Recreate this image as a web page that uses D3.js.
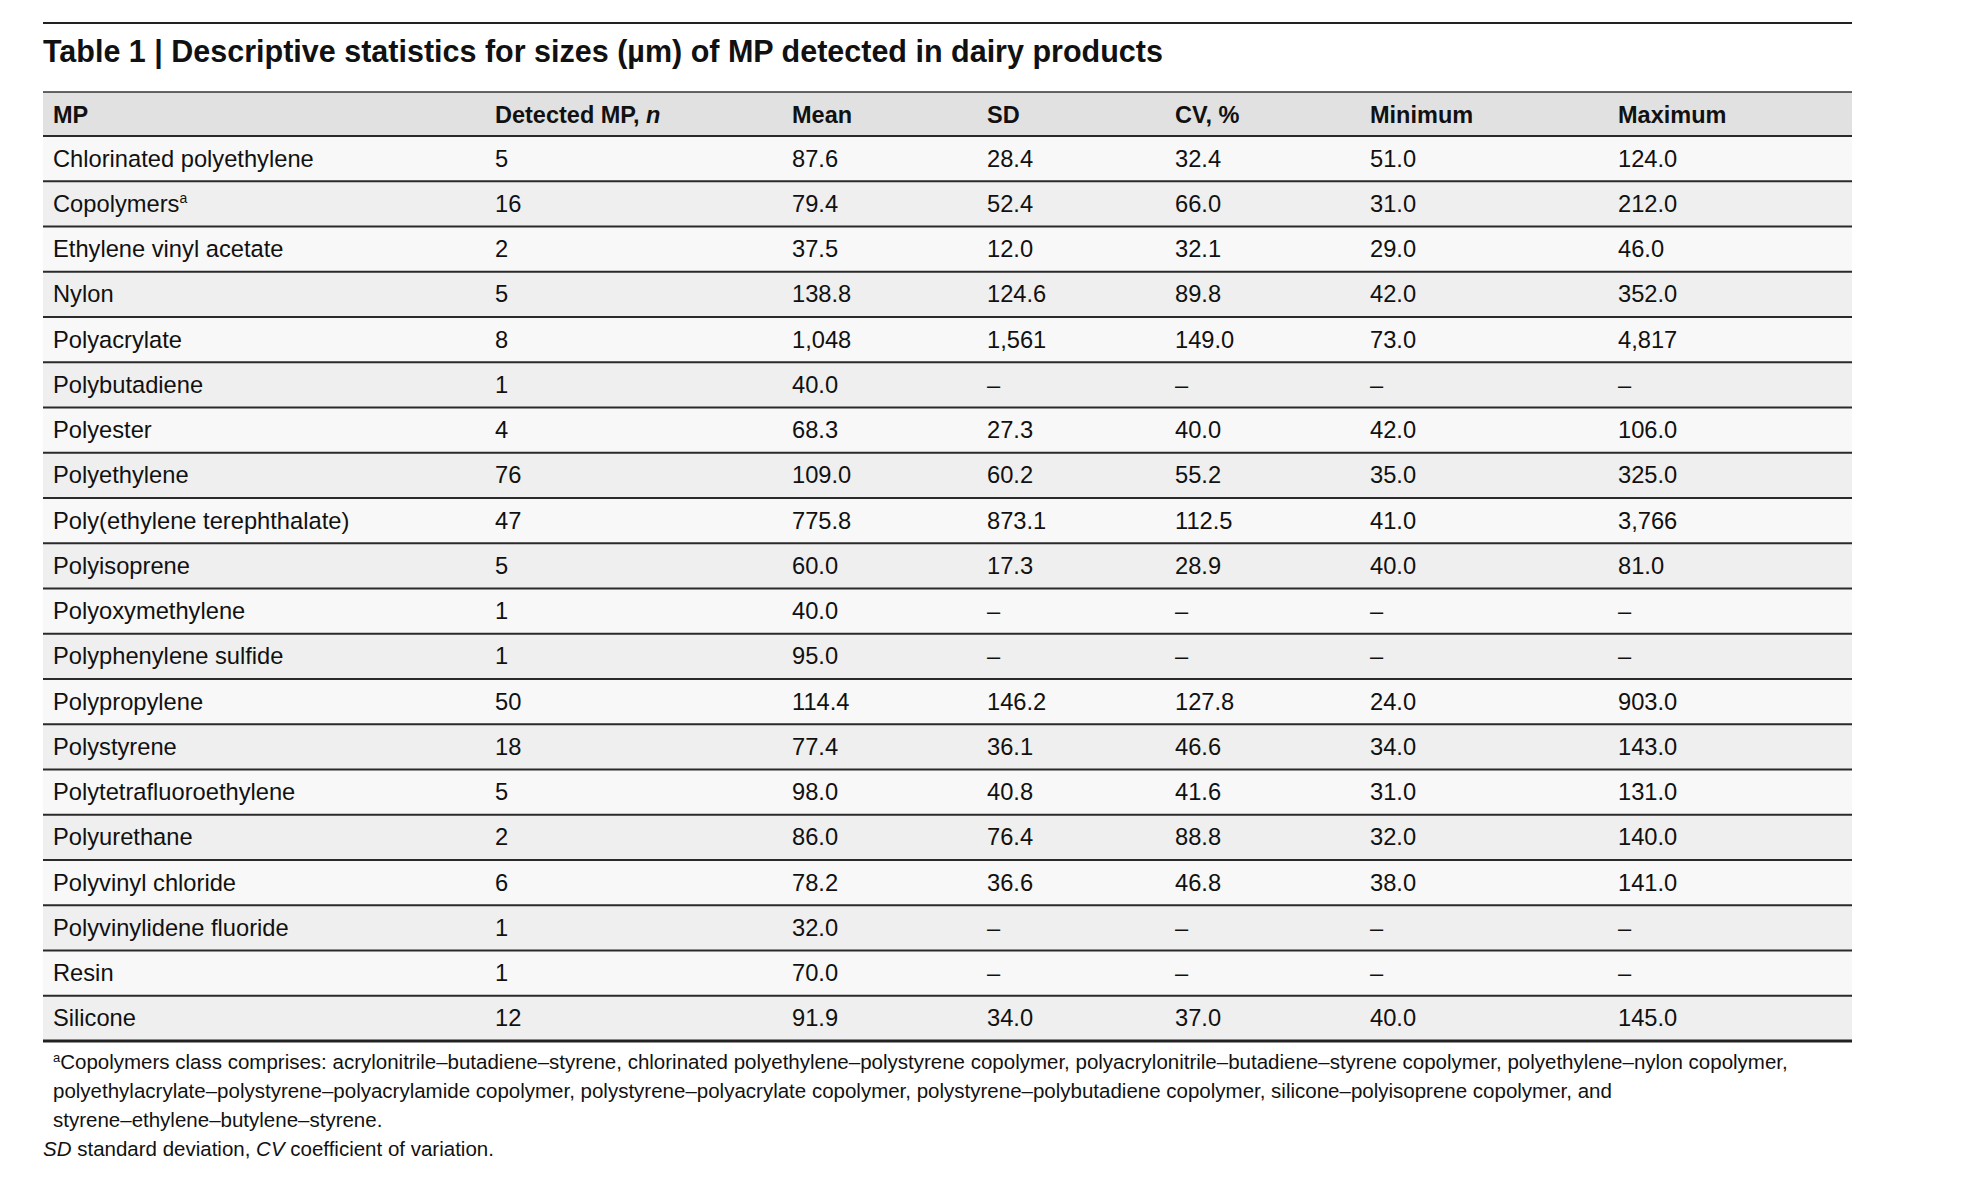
<!DOCTYPE html>
<html><head><meta charset="utf-8">
<script src="https://cdn.jsdelivr.net/npm/d3@7"></script>
<style>body{margin:0;background:#fff}svg{font-family:"Liberation Sans",Arial,sans-serif}</style>
</head><body><svg id="t" width="1966" height="1178"></svg>
<script>
var columns = ["MP", "Detected MP, n", "Mean", "SD", "CV, %", "Minimum", "Maximum"];
var names = ["Chlorinated polyethylene","Copolymers","Ethylene vinyl acetate","Nylon","Polyacrylate","Polybutadiene","Polyester","Polyethylene","Poly(ethylene terephthalate)","Polyisoprene","Polyoxymethylene","Polyphenylene sulfide","Polypropylene","Polystyrene","Polytetrafluoroethylene","Polyurethane","Polyvinyl chloride","Polyvinylidene fluoride","Resin","Silicone"];
var detected = ["5","16","2","5","8","1","4","76","47","5","1","1","50","18","5","2","6","1","1","12"];
var means = ["87.6","79.4","37.5","138.8","1,048","40.0","68.3","109.0","775.8","60.0","40.0","95.0","114.4","77.4","98.0","86.0","78.2","32.0","70.0","91.9"];
var sds = ["28.4","52.4","12.0","124.6","1,561","–","27.3","60.2","873.1","17.3","–","–","146.2","36.1","40.8","76.4","36.6","–","–","34.0"];
var cvs = ["32.4","66.0","32.1","89.8","149.0","–","40.0","55.2","112.5","28.9","–","–","127.8","46.6","41.6","88.8","46.8","–","–","37.0"];
var mins = ["51.0","31.0","29.0","42.0","73.0","–","42.0","35.0","41.0","40.0","–","–","24.0","34.0","31.0","32.0","38.0","–","–","40.0"];
var maxs = ["124.0","212.0","46.0","352.0","4,817","–","106.0","325.0","3,766","81.0","–","–","903.0","143.0","131.0","140.0","141.0","–","–","145.0"];
var footnotes = [
  "Copolymers class comprises: acrylonitrile–butadiene–styrene, chlorinated polyethylene–polystyrene copolymer, polyacrylonitrile–butadiene–styrene copolymer, polyethylene–nylon copolymer,",
  "polyethylacrylate–polystyrene–polyacrylamide copolymer, polystyrene–polyacrylate copolymer, polystyrene–polybutadiene copolymer, silicone–polyisoprene copolymer, and",
  "styrene–ethylene–butylene–styrene."
];

var svg = d3.select("#t");
var left = 43, right = 1852;
var colX = [53, 495, 792, 987, 1175, 1370, 1618];
var y = d3.scaleBand().domain(d3.range(names.length)).range([136, 1041]).padding(0);

svg.append("line").attr("x1", left).attr("x2", right).attr("y1", 23).attr("y2", 23).attr("stroke", "#222").attr("stroke-width", 2);
svg.append("text").attr("x", left).attr("y", 62).attr("font-size", 30.5).attr("font-weight", "bold").attr("fill", "#111")
  .text("Table 1 | Descriptive statistics for sizes (µm) of MP detected in dairy products");

// header
svg.append("rect").attr("x", left).attr("y", 92).attr("width", right - left).attr("height", 44).attr("fill", "#e1e1e1");
svg.append("line").attr("x1", left).attr("x2", right).attr("y1", 92).attr("y2", 92).attr("stroke", "#333").attr("stroke-width", 1.5);
var ht = svg.append("g").selectAll("text").data(columns).join("text")
  .attr("x", function(d, i){return colX[i];}).attr("y", 123)
  .attr("font-size", 23.5).attr("font-weight", "bold").attr("fill", "#111");
ht.each(function(d){
  var t = d3.select(this);
  if (d.indexOf(", n") > 0) { t.append("tspan").text("Detected MP, "); t.append("tspan").attr("font-style", "italic").text("n"); }
  else t.text(d);
});

var rows = svg.append("g").selectAll("g").data(names).join("g")
  .attr("transform", function(d, i){return "translate(0," + y(i) + ")";});
rows.append("rect").attr("x", left).attr("width", right - left).attr("height", y.bandwidth())
  .attr("fill", function(d, i){return i % 2 ? "#efefef" : "#f8f8f8";});
rows.append("line").attr("x1", left).attr("x2", right).attr("y1", 0).attr("y2", 0)
  .attr("stroke", "#2a2a2a").attr("stroke-width", 2);
var cols = [names, detected, means, sds, cvs, mins, maxs];
cols.forEach(function(arr, c){
  rows.append("text").attr("x", colX[c]).attr("y", y.bandwidth() / 2 + 8)
    .attr("font-size", 23.7).attr("fill", "#111")
    .each(function(d, i){
      var t = d3.select(this);
      t.text(arr[i]);
      if (c === 0 && arr[i] === "Copolymers") t.append("tspan").attr("font-size", 14).attr("dy", -9).text("a");
    });
});
svg.append("line").attr("x1", left).attr("x2", right).attr("y1", 1041).attr("y2", 1041).attr("stroke", "#222").attr("stroke-width", 3);

// footnotes
var fy = [1069, 1098, 1127];
footnotes.forEach(function(f, i){
  var t = svg.append("text").attr("x", 53).attr("y", fy[i]).attr("font-size", 20.5).attr("fill", "#111");
  if (i === 0) t.append("tspan").attr("font-size", 13).attr("dy", -7).text("a");
  t.append("tspan").attr("dy", i === 0 ? 7 : 0).text(f);
});
var last = svg.append("text").attr("x", 43).attr("y", 1156).attr("font-size", 20.5).attr("fill", "#111");
last.append("tspan").attr("font-style", "italic").text("SD");
last.append("tspan").text(" standard deviation, ");
last.append("tspan").attr("font-style", "italic").text("CV");
last.append("tspan").text(" coefficient of variation.");
</script></body></html>
